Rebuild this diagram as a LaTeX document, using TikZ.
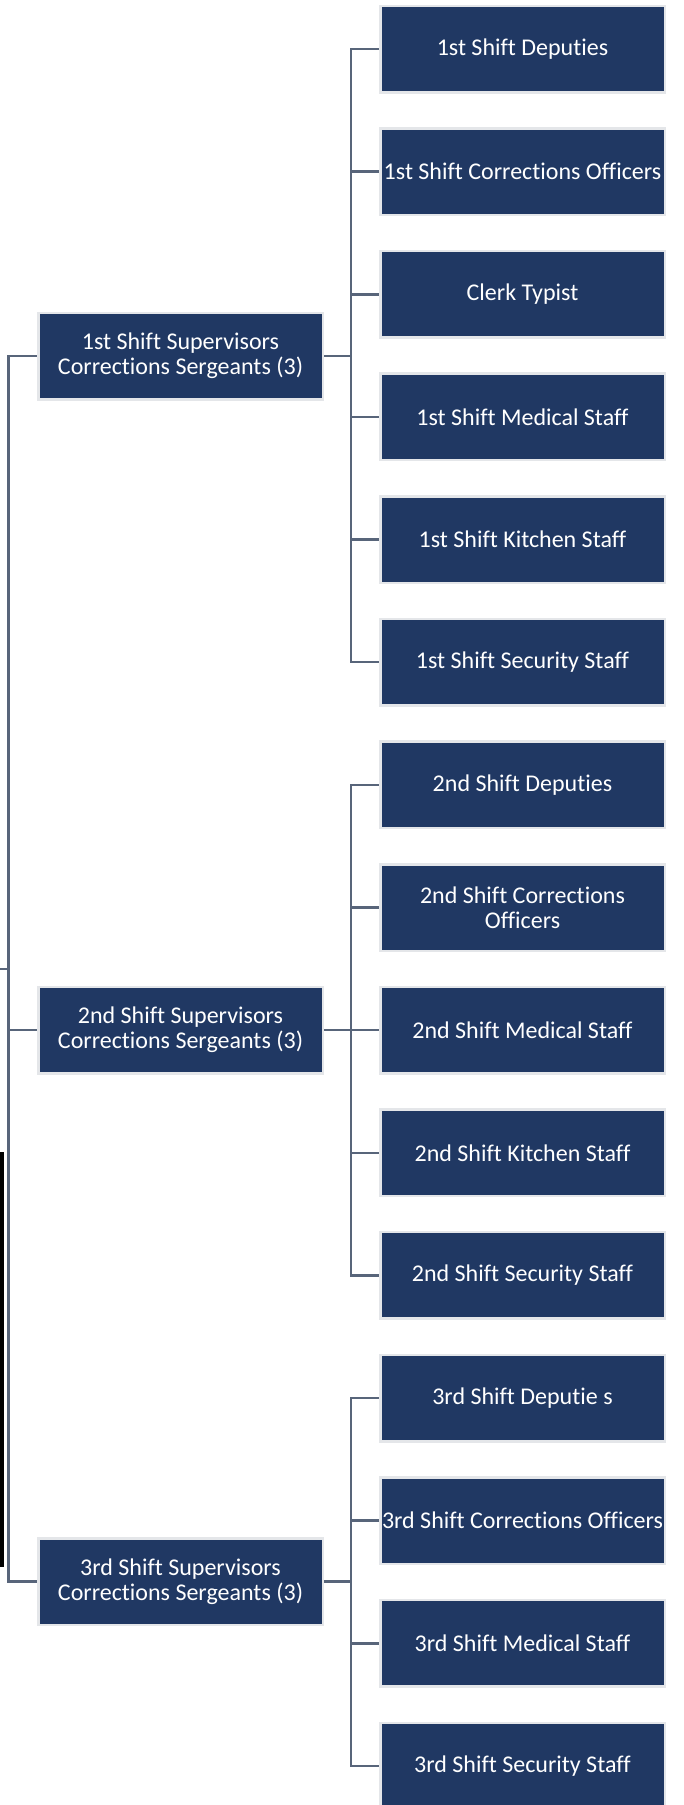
\documentclass[tikz,border=0pt]{standalone}
\usepackage{fontspec}
\setmainfont{Carlito}[Ligatures=NoCommon]
\definecolor{navy}{RGB}{32,56,99}
\definecolor{boxedge}{RGB}{228,230,233}
\definecolor{linkc}{RGB}{88,101,122}
\begin{document}
\begin{tikzpicture}[x=0.5pt,y=-0.5pt,
  orgbox/.style={rectangle, fill=navy, draw=boxedge, line width=1.25pt,
    minimum width=142.25pt, minimum height=43.25pt, inner sep=0pt,
    text=white, align=center, font=\fontsize{12}{12.5}\selectfont},
  link/.style={draw=linkc, line width=1.25pt}]
\useasboundingbox (0,0) rectangle (684,1805);
% parents
\node[orgbox] (p1) at (180.5,356) {1st Shift Supervisors\\Corrections Sergeants (3)};
\node[orgbox] (p2) at (180.5,1030.1) {2nd Shift Supervisors\\Corrections Sergeants (3)};
\node[orgbox] (p3) at (180.5,1581.6) {3rd Shift Supervisors\\Corrections Sergeants (3)};
% children group 1
\node[orgbox] (a1) at (522.5,49) {1st Shift Deputies};
\node[orgbox] (a2) at (522.5,171.6) {1st Shift Corrections Officers};
\node[orgbox] (a3) at (522.5,294.3) {Clerk Typist};
\node[orgbox] (a4) at (522.5,416.9) {1st Shift Medical Staff};
\node[orgbox] (a5) at (522.5,539.6) {1st Shift Kitchen Staff};
\node[orgbox] (a6) at (522.5,662.2) {1st Shift Security Staff};
% children group 2
\node[orgbox] (b1) at (522.5,784.8) {2nd Shift Deputies};
\node[orgbox] (b2) at (522.5,907.5) {2nd Shift Corrections\\Officers};
\node[orgbox] (b3) at (522.5,1030.1) {2nd Shift Medical Staff};
\node[orgbox] (b4) at (522.5,1152.8) {2nd Shift Kitchen Staff};
\node[orgbox] (b5) at (522.5,1275.4) {2nd Shift Security Staff};
% children group 3
\node[orgbox] (c1) at (522.5,1398) {3rd Shift Deputie s};
\node[orgbox] (c2) at (522.5,1520.7) {3rd Shift Corrections Officers};
\node[orgbox] (c3) at (522.5,1643.3) {3rd Shift Medical Staff};
\node[orgbox] (c4) at (522.5,1766) {3rd Shift Security Staff};
% connectors parent -> children
\foreach \ch in {a1,a2,a3,a4,a5,a6} \draw[link] (p1.east) -- ++(27,0) |- (\ch.west);
\foreach \ch in {b1,b2,b3,b4,b5} \draw[link] (p2.east) -- ++(27,0) |- (\ch.west);
\foreach \ch in {c1,c2,c3,c4} \draw[link] (p3.east) -- ++(27,0) |- (\ch.west);
% left trunk
\coordinate (up) at (0,969);
\foreach \pp in {p1,p2,p3} \draw[link] (up) -- ++(8.5,0) |- (\pp.west);
% black bar at left edge
\fill[black] (0,1152) rectangle (4.3,1567);
\end{tikzpicture}
\end{document}
